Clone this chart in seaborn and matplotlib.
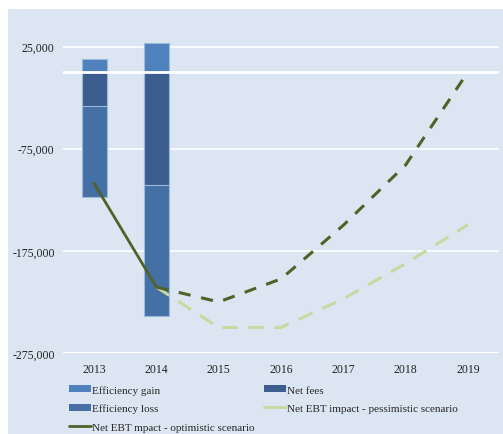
import matplotlib
matplotlib.use("Agg")
import matplotlib.pyplot as plt
from matplotlib.patches import Patch
from matplotlib.lines import Line2D
import seaborn as sns
import pandas as pd
import numpy as np

years = ["2013", "2014", "2015", "2016", "2017", "2018", "2019"]
bar_years = ["2013", "2014"]
efficiency_gain = [13000, 28000]
net_fees = [-33000, -110500]
efficiency_loss = [-89000, -128000]
optimistic = [-109000, -210500, -225000, -202500, -150000, -91000, 0]
pessimistic = [None, -210500, -250000, -250000, -222000, -187500, -149500]
y_ticks = [25000, -75000, -175000, -275000]

BG = "#DCE6F2"
C_GAIN = "#4F81BD"
C_FEES = "#3B5E8E"
C_LOSS = "#4470A5"
C_EDGE = "#9DB9DD"
C_OPT = "#4F6228"
C_PES = "#C6D9A0"

sns.set_theme(style="white")
plt.rcParams["font.family"] = ["Liberation Serif", "DejaVu Serif"]

fig = plt.figure(figsize=(5.03, 4.35), dpi=100)
fig.patch.set_facecolor("white")
# light blue chart area
fig.add_artist(plt.Rectangle((8 / 503, 0), 1, 1 - 10 / 435, transform=fig.transFigure,
                             facecolor=BG, edgecolor="none", zorder=-10))
ax = fig.add_axes([63 / 503, (435 - 354) / 435, 436 / 503, (354 - 22) / 435])
ax.set_facecolor(BG)

bars = pd.DataFrame({
    "year": bar_years,
    "gain": efficiency_gain,
    "fees": net_fees,
    "neg_total": [f + l for f, l in zip(net_fees, efficiency_loss)],
})
bw = 25 / 62.3
for col, color in [("gain", C_GAIN), ("neg_total", C_LOSS), ("fees", C_FEES)]:
    sns.barplot(data=bars, x="year", y=col, order=years, color=color, width=bw,
                edgecolor=C_EDGE, linewidth=0.8, saturation=1, ax=ax, zorder=3)

pos = np.arange(len(years))
opt = pd.DataFrame({"x": pos, "y": optimistic})
pes = pd.DataFrame({"x": pos, "y": pessimistic}).dropna()

sns.lineplot(data=pes, x="x", y="y", color=C_PES, linewidth=2.2, ax=ax,
             zorder=4).lines[-1].set_dashes([5, 3.5])
sns.lineplot(data=opt.iloc[1:], x="x", y="y", color=C_OPT, linewidth=2.2, ax=ax,
             zorder=5).lines[-1].set_dashes([4, 3.5])
sns.lineplot(data=opt.iloc[:2], x="x", y="y", color=C_OPT, linewidth=2.0, ax=ax, zorder=5)

ax.set_xlim(-0.5, len(years) - 0.5)
ax.set_ylim(-275000, 50000)
ax.set_yticks(y_ticks)
ax.set_yticklabels([f"{v:,}" for v in y_ticks])
ax.set_xticks(pos)
ax.set_xticklabels(years)
for v in y_ticks:
    ax.axhline(v, color="white", linewidth=1.2, zorder=1)
ax.axhline(0, color="white", linewidth=2.0, zorder=3.5)
ax.axhline(-275000, color="white", linewidth=1.5, zorder=1)
ax.set_xlabel("")
ax.set_ylabel("")
for s in ax.spines.values():
    s.set_visible(False)
ax.tick_params(axis="both", length=0, labelsize=8.5, colors="#222222")
ax.tick_params(axis="x", pad=7)
ax.tick_params(axis="y", pad=6)

# column-major order so rows read: gain | fees, loss | pessimistic, optimistic
handles = [
    Patch(facecolor=C_GAIN, edgecolor="none"),
    Patch(facecolor=C_LOSS, edgecolor="none"),
    Line2D([], [], color=C_OPT, linewidth=2),
    Patch(facecolor=C_FEES, edgecolor="none"),
    Line2D([], [], color=C_PES, linewidth=2),
]
labels = ["Efficiency gain", "Efficiency loss", "Net EBT mpact - optimistic scenario",
          "Net fees", "Net EBT impact - pessimistic scenario"]
fig.legend(handles, labels, ncol=2, loc="upper left",
           bbox_to_anchor=(69 / 503, 1 - 386 / 435), frameon=False,
           fontsize=8, handlelength=2.0, handleheight=0.6, handletextpad=0.1,
           columnspacing=0.8, labelspacing=0.8, borderaxespad=0, borderpad=0)

fig.savefig("out.png", dpi=100, facecolor=fig.get_facecolor())
